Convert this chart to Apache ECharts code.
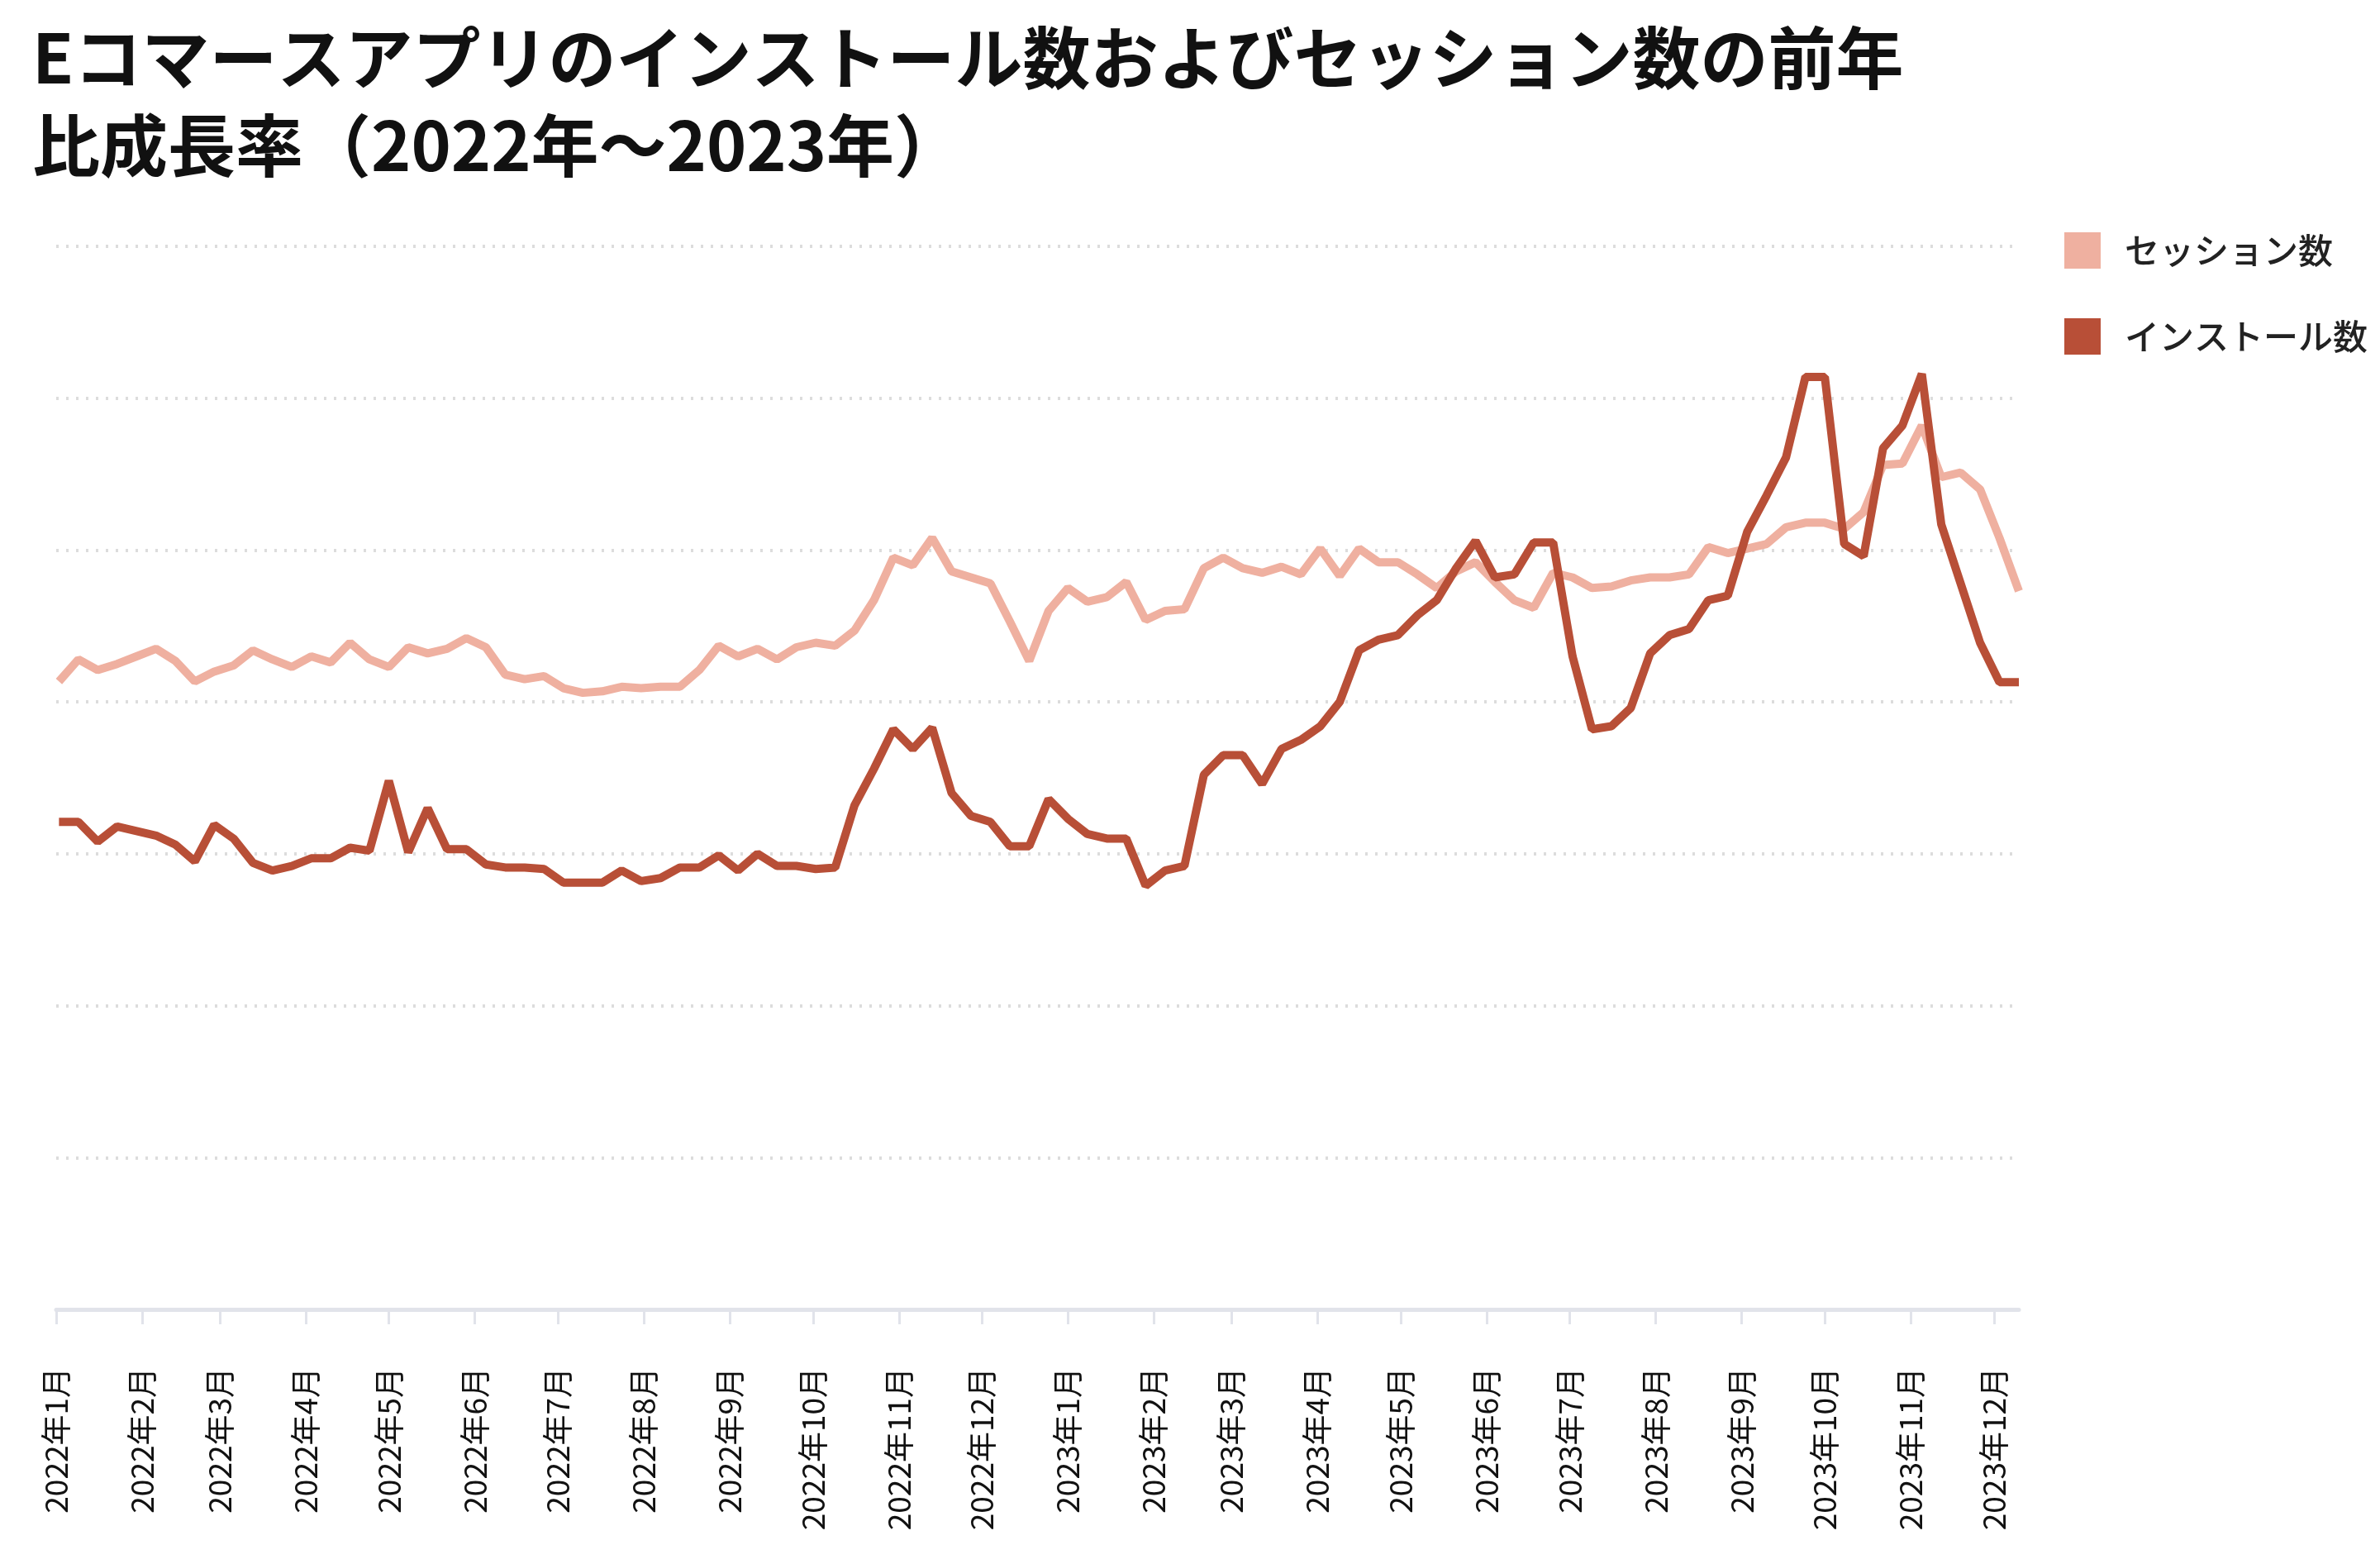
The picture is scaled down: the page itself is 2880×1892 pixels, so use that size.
<!DOCTYPE html>
<html>
<head>
<meta charset="utf-8">
<script src="https://cdn.jsdelivr.net/npm/echarts@6/dist/echarts.min.js"></script>
<style>
  html, body { margin: 0; padding: 0; background: #fff; }
  #chart { width: 2880px; height: 1892px; }
</style>
</head>
<body>
<div id="chart"></div>
<script>
// weekly points, first week starting 2022-01-02
var startDate = '2022-01-02';
var weekCount = 102;

var sessions = [41.35, 42.8, 42.1, 42.5, 43.0, 43.5, 42.7, 41.35, 42.0, 42.4, 43.4, 42.8, 42.3, 43.0, 42.6, 43.9, 42.8, 42.3, 43.6, 43.2,
  43.5, 44.2, 43.6, 41.8, 41.5, 41.7, 40.9, 40.6, 40.7, 41.0, 40.9, 41.0, 41.0, 42.1, 43.7, 43.0, 43.5, 42.8, 43.6, 43.9,
  43.7, 44.7, 46.7, 49.5, 49.0, 50.8, 48.6, 48.2, 47.8, 45.3, 42.7,
  46.0, 47.5, 46.6, 46.9, 47.9, 45.4, 46.0, 46.1, 48.8, 49.5, 48.8, 48.5, 48.9, 48.4, 50.1, 48.3, 50.1, 49.2, 49.2, 48.4,
  47.5, 48.6, 49.2, 47.9, 46.7, 46.2, 48.5, 48.2, 47.5, 47.6, 48.0, 48.2, 48.2, 48.4, 50.2, 49.8, 50.1, 50.4, 51.5, 51.8,
  51.8, 51.4, 52.5, 55.6, 55.7, 58.2, 54.8, 55.1, 54.0, 50.8, 47.3];

var installs = [32.1, 32.1, 30.8, 31.8, 31.5, 31.2, 30.6, 29.5, 31.9, 31.0, 29.4, 28.9, 29.2, 29.7, 29.7, 30.4, 30.2, 34.8, 30.1, 33.0,
  30.3, 30.3, 29.3, 29.1, 29.1, 29.0, 28.1, 28.1, 28.1, 28.9, 28.2, 28.4, 29.1, 29.1, 29.9, 28.9, 30.0, 29.2, 29.2, 29.0,
  29.1, 33.2, 35.6, 38.2, 36.9, 38.3, 34.0, 32.5, 32.1, 30.5, 30.5,
  33.6, 32.3, 31.3, 31.0, 31.0, 27.9, 28.9, 29.2, 35.2, 36.5, 36.5, 34.6, 36.9, 37.5, 38.4, 40.0, 43.4, 44.1, 44.4, 45.7,
  46.7, 48.8, 50.6, 48.2, 48.4, 50.5, 50.5, 43.0, 38.2, 38.4, 39.6, 43.2, 44.4, 44.8, 46.7, 47.0, 51.2, 53.6, 56.1, 61.4,
  61.4, 50.4, 49.6, 56.7, 58.2, 61.6, 51.7, 47.8, 43.9, 41.3, 41.3];

var weeks = [];
var t0 = new Date(startDate + 'T00:00:00').getTime();
for (var i = 0; i < weekCount; i++) weeks.push(t0 + i * 7 * 86400000);

function pairs(vals) {
  return vals.map(function (v, i) { return [weeks[i], v]; });
}

var font = '"Noto Sans CJK JP", "Noto Sans", sans-serif';
var chart = echarts.init(document.getElementById('chart'));
chart.setOption({
  animation: false,
  color: ['#efb0a0', '#b84f37'],
  title: {
    text: 'Eコマースアプリのインストール数およびセッション数の前年\n比成長率（2022年〜2023年）',
    left: 34, top: 12,
    textStyle: { fontFamily: font, fontSize: 82, fontWeight: 'bold', color: '#111', lineHeight: 106 }
  },
  legend: {
    orient: 'vertical', right: 10, top: 276,
    icon: 'rect', itemWidth: 44, itemHeight: 44, itemGap: 60,
    textStyle: { fontFamily: font, fontSize: 42, fontWeight: 500, color: '#222', padding: [0, 0, 0, 24] },
    data: ['セッション数', 'インストール数']
  },
  grid: { left: 68, right: 437, top: 298, bottom: 308 },
  xAxis: {
    type: 'time',
    min: new Date('2022-01-01T00:00:00').getTime(),
    max: weeks[weeks.length - 1],
    minInterval: 28 * 86400000,
    maxInterval: 31 * 86400000,
    splitLine: { show: false },
    axisLine: { lineStyle: { color: '#e1e3ea', width: 5 } },
    axisTick: { show: true, length: 18, lineStyle: { color: '#e1e3ea', width: 3 } },
    axisLabel: {
      rotate: 90, margin: 70, fontFamily: font, fontSize: 37, color: '#111',
      hideOverlap: false,
      formatter: function (v) {
        var d = new Date(v);
        return d.getFullYear() + '年' + (d.getMonth() + 1) + '月';
      }
    }
  },
  yAxis: {
    type: 'value', min: 0, max: 70, interval: 10,
    axisLabel: { show: false },
    axisLine: { show: false }, axisTick: { show: false },
    splitLine: { lineStyle: { type: [3, 9], color: '#dcdcdc', width: 4 } }
  },
  series: [
    { name: 'セッション数', type: 'line', data: pairs(sessions), showSymbol: false,
      lineStyle: { width: 10 } },
    { name: 'インストール数', type: 'line', data: pairs(installs), showSymbol: false,
      lineStyle: { width: 10 } }
  ]
});
</script>
</body>
</html>
